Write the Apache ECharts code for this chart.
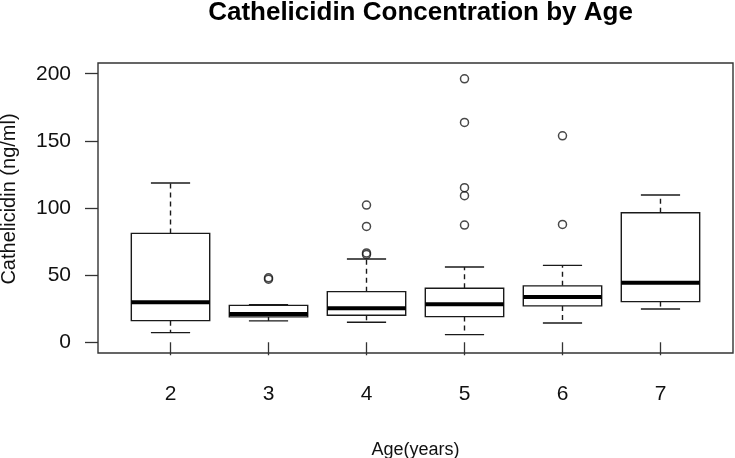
<!DOCTYPE html>
<html>
<head>
<meta charset="utf-8">
<script src="https://cdn.jsdelivr.net/npm/echarts@6/dist/echarts.min.js"></script>
<style>html,body{margin:0;padding:0;background:#fff}#c{width:735px;height:458px}</style>
</head>
<body>
<div id="c"></div>
<script>
// ---- data ----
var ages = [2, 3, 4, 5, 6, 7];
var lowerWhisker = [7.2, 15.9, 14.9, 5.7, 14.4, 24.8];
var q1 = [16.1, 18.9, 20.1, 19.1, 27.1, 30.3];
var median = [29.8, 21.1, 25.3, 28.3, 33.8, 44.4];
var q3 = [81.1, 27.5, 37.7, 40.2, 42.0, 96.5];
var upperWhisker = [118.6, 28.0, 62.0, 56.1, 57.3, 109.7];
var outlierAges = [3, 3, 4, 4, 4, 4, 5, 5, 5, 5, 5, 6, 6];
var outlierValues = [47, 48, 102.2, 86.3, 66.5, 65.3, 196.2, 163.7, 115.1, 109.2, 87.3, 153.8, 87.8];
var yTicks = [0, 50, 100, 150, 200];
var titleText = 'Cathelicidin Concentration by Age';
var xTitle = 'Age(years)';
var yTitle = 'Cathelicidin (ng/ml)';

var FONT = '"Liberation Sans", Arial, sans-serif';
var boxData = ages.map(function (a, i) {
  return [a, lowerWhisker[i], q1[i], median[i], q3[i], upperWhisker[i]];
});
var outData = outlierAges.map(function (a, i) { return [a, outlierValues[i]]; });

function renderBox(params, api) {
  var x = api.value(0);
  var pLow = api.coord([x, api.value(1)]);
  var pQ1 = api.coord([x, api.value(2)]);
  var pMed = api.coord([x, api.value(3)]);
  var pQ3 = api.coord([x, api.value(4)]);
  var pHigh = api.coord([x, api.value(5)]);
  var half = api.size([1, 0])[0] * 0.4;
  var cap = half / 2;
  var cx = pMed[0];
  var lineStyle = { stroke: '#1a1a1a', lineWidth: 1.4, fill: null };
  var dashStyle = { stroke: '#1a1a1a', lineWidth: 1.4, lineDash: [5, 4], fill: null };
  return {
    type: 'group',
    children: [
      { type: 'line', shape: { x1: cx, y1: pQ3[1], x2: cx, y2: pHigh[1] }, style: dashStyle },
      { type: 'line', shape: { x1: cx, y1: pQ1[1], x2: cx, y2: pLow[1] }, style: dashStyle },
      { type: 'line', shape: { x1: cx - cap, y1: pHigh[1], x2: cx + cap, y2: pHigh[1] }, style: lineStyle },
      { type: 'line', shape: { x1: cx - cap, y1: pLow[1], x2: cx + cap, y2: pLow[1] }, style: lineStyle },
      { type: 'rect', shape: { x: cx - half, y: pQ3[1], width: half * 2, height: pQ1[1] - pQ3[1] },
        style: { stroke: '#1a1a1a', lineWidth: 1.4, fill: '#fff' } },
      { type: 'line', shape: { x1: cx - half, y1: pMed[1], x2: cx + half, y2: pMed[1] },
        style: { stroke: '#000', lineWidth: 4, fill: null } }
    ]
  };
}

var chart = echarts.init(document.getElementById('c'), null, { renderer: 'canvas' });
chart.setOption({
  animation: false,
  backgroundColor: '#fff',
  title: {
    text: titleText,
    left: 415.5,
    top: -5,
    textAlign: 'center',
    textStyle: { fontFamily: FONT, fontSize: 26, fontWeight: 'bold', color: '#000' }
  },
  graphic: [{
    type: 'text',
    x: 9, y: 199,
    rotation: Math.PI / 2,
    style: { text: yTitle, font: '20px ' + FONT, fill: '#111', textAlign: 'center', textVerticalAlign: 'middle' }
  }],
  grid: {
    left: 98, top: 63, right: 2, bottom: 105,
    outerBoundsMode: 'none',
    containLabel: false,
    show: true, borderColor: '#333', borderWidth: 1.4, backgroundColor: 'transparent'
  },
  xAxis: {
    type: 'value',
    min: 1.26, max: 7.74,
    name: xTitle,
    nameLocation: 'middle',
    nameGap: 88,
    nameTextStyle: { fontFamily: FONT, fontSize: 18, color: '#111' },
    axisLine: { show: false },
    splitLine: { show: false },
    axisTick: { show: true, length: 13, customValues: ages, lineStyle: { color: '#333', width: 1.3 } },
    axisLabel: { customValues: ages, margin: 31, fontFamily: FONT, fontSize: 21, color: '#111' }
  },
  yAxis: {
    type: 'value',
    min: -8, max: 208,
    axisLine: { show: false },
    splitLine: { show: false },
    axisTick: { show: true, length: 13, customValues: yTicks, lineStyle: { color: '#333', width: 1.3 } },
    axisLabel: { customValues: yTicks, margin: 27, fontFamily: FONT, fontSize: 21, color: '#111' }
  },
  series: [
    { type: 'custom', renderItem: renderBox, data: boxData, encode: { x: 0, y: [1, 2, 3, 4, 5] }, clip: false },
    { type: 'scatter', data: outData, symbol: 'circle', symbolSize: 8,
      itemStyle: { color: 'rgba(255,255,255,0)', borderColor: '#1a1a1a', borderWidth: 1.5 } }
  ]
});
</script>
</body>
</html>
